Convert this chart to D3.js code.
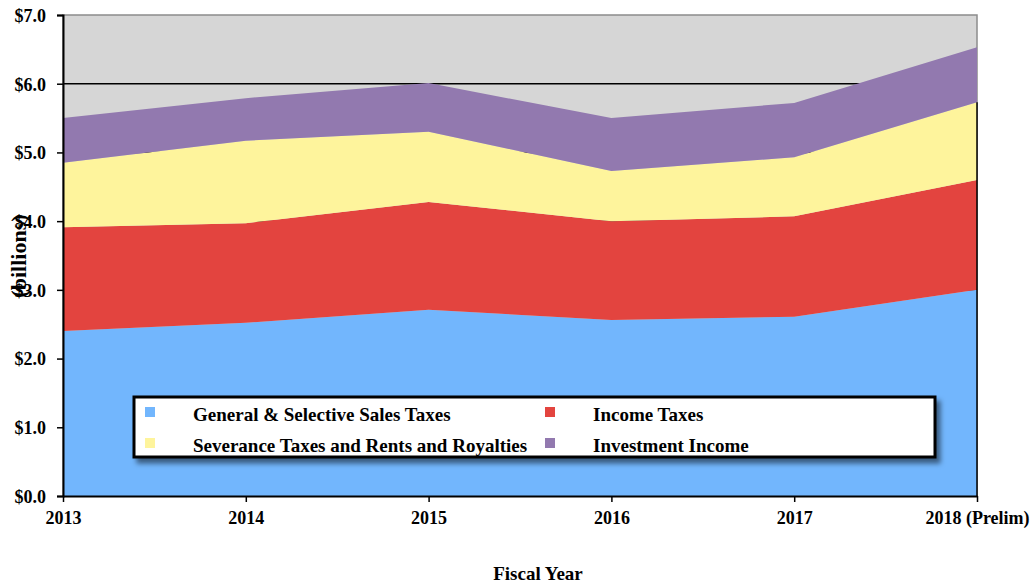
<!DOCTYPE html>
<html>
<head>
<meta charset="utf-8">
<script src="https://cdnjs.cloudflare.com/ajax/libs/d3/7.8.5/d3.min.js"></script>
<style>
  body { margin: 0; background: #fff; }
  text { font-family: "Liberation Serif", "Times New Roman", serif; font-weight: bold; fill: #000; }
</style>
</head>
<body>
<svg id="chart" width="1035" height="585"></svg>
<script>
// fiscal years on the x axis
var years = ["2013", "2014", "2015", "2016", "2017", "2018 (Prelim)"];
// revenue by source, billions of dollars
var salesTaxes     = [2.40, 2.52, 2.71, 2.56, 2.61, 3.00];
var incomeTaxes    = [1.51, 1.45, 1.57, 1.44, 1.46, 1.60];
var severanceTaxes = [0.94, 1.20, 1.02, 0.73, 0.86, 1.13];
var investIncome   = [0.65, 0.62, 0.71, 0.77, 0.79, 0.80];
var seriesNames = ["General & Selective Sales Taxes", "Income Taxes",
                   "Severance Taxes and Rents and Royalties", "Investment Income"];
var yTicks = [0, 1, 2, 3, 4, 5, 6, 7];

var colors = ["#72b6fd", "#e3443f", "#fef49c", "#9279af"];

var svg = d3.select("#chart");
var mLeft = 63, mRight = 977, mTop = 15, mBottom = 496;

var x = d3.scalePoint().domain(years).range([mLeft, mRight]);
var y = d3.scaleLinear().domain([0, 7]).range([mBottom, mTop]);

var rows = years.map(function(yr, i) {
  return { year: yr, s0: salesTaxes[i], s1: incomeTaxes[i], s2: severanceTaxes[i], s3: investIncome[i] };
});
var layers = d3.stack().keys(["s0", "s1", "s2", "s3"])(rows);

// plot background
svg.append("rect").attr("x", mLeft).attr("y", mTop)
  .attr("width", mRight - mLeft).attr("height", mBottom - mTop)
  .attr("fill", "#d6d6d6").attr("stroke", "#8c8c8c").attr("stroke-width", 1.5);

// gridlines behind the areas
svg.append("g").selectAll("line").data(yTicks.slice(1, -1)).enter().append("line")
  .attr("x1", mLeft).attr("x2", mRight)
  .attr("y1", function(d) { return y(d); }).attr("y2", function(d) { return y(d); })
  .attr("stroke", "#000").attr("stroke-width", 1.5);

var area = d3.area()
  .x(function(d) { return x(d.data.year); })
  .y0(function(d) { return y(d[0]); })
  .y1(function(d) { return y(d[1]); });

svg.append("g").selectAll("path").data(layers).enter().append("path")
  .attr("d", area)
  .attr("fill", function(d, i) { return colors[i]; });

// right edge line next to the stack
svg.append("line").attr("x1", mRight).attr("x2", mRight)
  .attr("y1", y(salesTaxes[5] + incomeTaxes[5] + severanceTaxes[5])).attr("y2", mBottom)
  .attr("stroke", "#000").attr("stroke-width", 1.5);

// axes
var yAxis = svg.append("g").attr("transform", "translate(" + mLeft + ",0)")
  .call(d3.axisLeft(y).tickValues(yTicks).tickSize(6).tickFormat(function(d) { return "$" + d.toFixed(1); }));
yAxis.select(".domain").attr("stroke-width", 2);
yAxis.selectAll(".tick line").attr("stroke-width", 1.5);
yAxis.selectAll("text").attr("font-size", 18).attr("x", -17).attr("dy", "0.35em");

var xAxis = svg.append("g").attr("transform", "translate(0," + mBottom + ")")
  .call(d3.axisBottom(x).tickSize(6).tickSizeOuter(0));
xAxis.select(".domain").attr("stroke-width", 2);
xAxis.selectAll(".tick line").attr("stroke-width", 1.5);
xAxis.selectAll("text").attr("font-size", 18).attr("y", 15);

svg.selectAll(".domain, .tick line").attr("stroke", "#000");

// axis titles
svg.append("text").attr("transform", "translate(26,256) rotate(-90)")
  .attr("text-anchor", "middle").attr("font-size", 22).text("(billions)");
svg.append("text").attr("x", 538).attr("y", 580)
  .attr("text-anchor", "middle").attr("font-size", 19).text("Fiscal Year");

// legend
var f = svg.append("defs").append("filter").attr("id", "shadow")
  .attr("x", "-5%").attr("y", "-20%").attr("width", "115%").attr("height", "160%");
f.append("feDropShadow").attr("dx", 4).attr("dy", 5).attr("stdDeviation", 2.5)
  .attr("flood-color", "#000").attr("flood-opacity", 0.5);

var lg = svg.append("g");
lg.append("rect").attr("x", 134).attr("y", 397).attr("width", 801).attr("height", 60)
  .attr("fill", "#fff").attr("stroke", "#000").attr("stroke-width", 3)
  .attr("filter", "url(#shadow)");
var pos = [[145, 414], [545, 414], [145, 445], [545, 445]];
seriesNames.forEach(function(name, i) {
  lg.append("rect").attr("x", pos[i][0]).attr("y", pos[i][1] - 7)
    .attr("width", 10).attr("height", 10).attr("fill", colors[i]);
  lg.append("text").attr("x", pos[i][0] + 48).attr("y", pos[i][1] + 7)
    .attr("font-size", 19).text(name);
});
</script>
</body>
</html>
